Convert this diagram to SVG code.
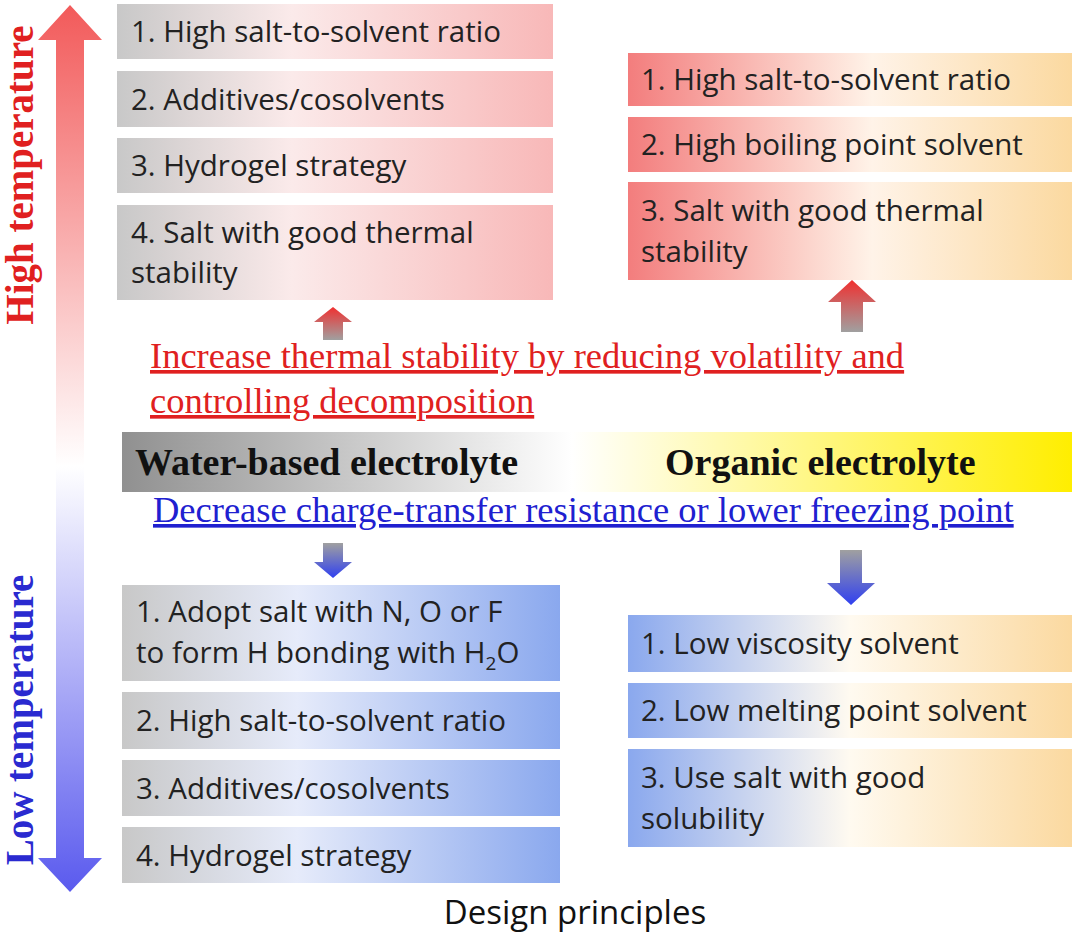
<svg xmlns="http://www.w3.org/2000/svg" width="1080" height="936" viewBox="0 0 1080 936">
<defs>
<linearGradient id="vg" x1="0" y1="0" x2="0" y2="1"><stop offset="0" stop-color="#f25a5a"/><stop offset="0.52" stop-color="#ffffff"/><stop offset="1" stop-color="#5a5aee"/></linearGradient>
<linearGradient id="gp" x1="0" y1="0" x2="1" y2="0"><stop offset="0" stop-color="#c8c8c8"/><stop offset="0.4" stop-color="#fbeaea"/><stop offset="1" stop-color="#f8b8b8"/></linearGradient>
<linearGradient id="ry" x1="0" y1="0" x2="1" y2="0"><stop offset="0" stop-color="#f37d7d"/><stop offset="0.55" stop-color="#fff3e8"/><stop offset="1" stop-color="#fbd9a0"/></linearGradient>
<linearGradient id="gb" x1="0" y1="0" x2="1" y2="0"><stop offset="0" stop-color="#c8c8c8"/><stop offset="0.4" stop-color="#e6ebfa"/><stop offset="1" stop-color="#8aa8ee"/></linearGradient>
<linearGradient id="by" x1="0" y1="0" x2="1" y2="0"><stop offset="0" stop-color="#8aa8ee"/><stop offset="0.5" stop-color="#fffaf0"/><stop offset="1" stop-color="#fbd9a0"/></linearGradient>
<linearGradient id="bg1" x1="0" y1="0" x2="1" y2="0"><stop offset="0" stop-color="#909090"/><stop offset="1" stop-color="#ffffff"/></linearGradient>
<linearGradient id="bg2" x1="0" y1="0" x2="1" y2="0"><stop offset="0" stop-color="#ffffff"/><stop offset="1" stop-color="#ffee00"/></linearGradient>
<linearGradient id="ua" x1="0" y1="0" x2="0" y2="1"><stop offset="0" stop-color="#f03030"/><stop offset="1" stop-color="#a0a0a0"/></linearGradient>
<linearGradient id="da" x1="0" y1="0" x2="0" y2="1"><stop offset="0" stop-color="#a0a0a0"/><stop offset="1" stop-color="#3040f0"/></linearGradient>
</defs>
<style>
.t{font-family:"Open Sans","Liberation Sans",Arial,sans-serif;font-size:29.5px;fill:#222}
.s{font-family:"Liberation Serif","Times New Roman",serif}
</style>
<rect width="1080" height="936" fill="#fff"/>
<g id="tempArrow">
<path d="M70,5 L102,40 L84,40 L84,858 L102,858 L70,892 L38,858 L56,858 L56,40 L38,40 Z" fill="url(#vg)"/>
<text class="s" transform="translate(33,175) rotate(-90)" text-anchor="middle" font-size="39" font-weight="bold" fill="#e02020">High temperature</text>
<text class="s" transform="translate(33,720) rotate(-90)" text-anchor="middle" font-size="39" font-weight="bold" fill="#2a2ad0">Low temperature</text>
</g>
<g id="waterHigh">
<rect x="117" y="4" width="436" height="55" fill="url(#gp)"/><text class="t" x="131" y="42">1. High salt-to-solvent ratio</text>
<rect x="117" y="71" width="436" height="56" fill="url(#gp)"/><text class="t" x="131" y="110">2. Additives/cosolvents</text>
<rect x="117" y="138" width="436" height="55" fill="url(#gp)"/><text class="t" x="131" y="176">3. Hydrogel strategy</text>
<rect x="117" y="205" width="436" height="95" fill="url(#gp)"/><text class="t" x="131" y="243">4. Salt with good thermal</text><text class="t" x="131" y="283">stability</text>
</g>
<g id="orgHigh">
<rect x="628" y="53" width="444" height="53" fill="url(#ry)"/><text class="t" x="641" y="90">1. High salt-to-solvent ratio</text>
<rect x="628" y="117" width="444" height="55" fill="url(#ry)"/><text class="t" x="641" y="155">2. High boiling point solvent</text>
<rect x="628" y="182" width="444" height="98" fill="url(#ry)"/><text class="t" x="641" y="221">3. Salt with good thermal</text><text class="t" x="641" y="262">stability</text>
</g>
<g id="connectors">
<path d="M333,307 L352,322 L343,322 L343,340 L323,340 L323,322 L314,322 Z" fill="url(#ua)"/>
<path d="M852,280 L876,302 L863,302 L863,332 L841,332 L841,302 L828,302 Z" fill="url(#ua)"/>
<path d="M333,578 L352,562 L343,562 L343,543 L323,543 L323,562 L314,562 Z" fill="url(#da)"/>
<path d="M851,605 L875,583 L862,583 L862,550 L840,550 L840,583 L827,583 Z" fill="url(#da)"/>
</g>
<g id="increase">
<text class="s" x="150" y="368" font-size="36.5" fill="#e02020" text-decoration="underline">Increase thermal stability by reducing volatility and</text>
<text class="s" x="150" y="413" font-size="36.5" fill="#e02020" text-decoration="underline">controlling decomposition</text>
</g>
<g id="band">
<rect x="122" y="432" width="450" height="60" fill="url(#bg1)"/>
<rect x="572" y="432" width="500" height="60" fill="url(#bg2)"/>
<text class="s" x="135" y="475" font-size="38" font-weight="bold" fill="#111">Water-based electrolyte</text>
<text class="s" x="665" y="475" font-size="38" font-weight="bold" fill="#111">Organic electrolyte</text>
</g>
<g id="decrease">
<text class="s" x="153" y="522" font-size="36.5" fill="#2020d0" text-decoration="underline">Decrease charge-transfer resistance or lower freezing point</text>
</g>
<g id="waterLow">
<rect x="122" y="585" width="438" height="96" fill="url(#gb)"/><text class="t" x="136" y="622">1. Adopt salt with N, O or F</text><text class="t" x="136" y="663">to form H bonding with H<tspan font-size="19" dy="7">2</tspan><tspan dy="-7">O</tspan></text>
<rect x="122" y="692" width="438" height="57" fill="url(#gb)"/><text class="t" x="136" y="731">2. High salt-to-solvent ratio</text>
<rect x="122" y="760" width="438" height="56" fill="url(#gb)"/><text class="t" x="136" y="799">3. Additives/cosolvents</text>
<rect x="122" y="827" width="438" height="56" fill="url(#gb)"/><text class="t" x="136" y="866">4. Hydrogel strategy</text>
</g>
<g id="orgLow">
<rect x="628" y="615" width="444" height="57" fill="url(#by)"/><text class="t" x="641" y="654">1. Low viscosity solvent</text>
<rect x="628" y="683" width="444" height="55" fill="url(#by)"/><text class="t" x="641" y="721">2. Low melting point solvent</text>
<rect x="628" y="749" width="444" height="98" fill="url(#by)"/><text class="t" x="641" y="788">3. Use salt with good</text><text class="t" x="641" y="829">solubility</text>
</g>
<text x="575" y="924" text-anchor="middle" font-family="Open Sans,Liberation Sans,Arial,sans-serif" font-size="33" fill="#111">Design principles</text>
</svg>
